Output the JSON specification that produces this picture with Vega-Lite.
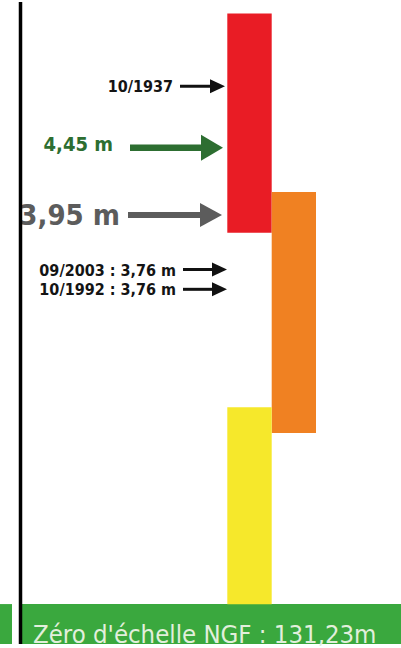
{
  "$schema": "https://vega.github.io/schema/vega-lite/v6.json",
  "width": 401,
  "height": 648,
  "autosize": {"type": "fit", "contains": "padding"},
  "padding": 0,
  "background": "white",
  "config": {"view": {"stroke": null}},
  "datasets": {
    "zones": [
      {"zone": "rouge", "x0": 227.3, "x1": 271.7, "n0": 415, "n1": 636.3},
      {"zone": "orange", "x0": 271.7, "x1": 316, "n0": 213, "n1": 456.3},
      {"zone": "jaune", "x0": 227.3, "x1": 271.7, "n0": 40, "n1": 239}
    ],
    "bande": [
      {"x0": 0, "x1": 12, "n0": 0, "n1": 40.3},
      {"x0": 21, "x1": 401, "n0": 0, "n1": 40.3}
    ],
    "echelle": [{"x": 20.5, "n0": 0, "n1": 648}],
    "crues": [
      {"label": "10/1937", "niveau": 563, "xStart": 180, "xTip": 225},
      {"label": "09/2003 : 3,76 m", "niveau": 378, "xStart": 183, "xTip": 227},
      {"label": "10/1992 : 3,76 m", "niveau": 358, "xStart": 183, "xTip": 227}
    ],
    "alerte": [{"label": "4,45 m", "niveau": 501, "xStart": 130, "xTip": 223}],
    "vigilance": [{"label": "3,95 m", "niveau": 433, "xStart": 128, "xTip": 222}],
    "zero": [{"label": "Zéro d'échelle NGF : 131,23m", "x": 33, "niveau": 1.5}]
  },
  "layer": [
    {
      "data": {"name": "bande"},
      "mark": {"type": "rect", "color": "#3aa83e"},
      "encoding": {
        "x": {"field": "x0", "type": "quantitative", "scale": {"domain": [0, 401], "nice": false, "zero": false}, "axis": null},
        "x2": {"field": "x1"},
        "y": {"field": "n0", "type": "quantitative", "scale": {"domain": [0, 648], "nice": false, "zero": false}, "axis": null},
        "y2": {"field": "n1"}
      }
    },
    {
      "data": {"name": "zones"},
      "mark": {"type": "rect"},
      "encoding": {
        "x": {"field": "x0", "type": "quantitative", "scale": {"domain": [0, 401], "nice": false, "zero": false}, "axis": null},
        "x2": {"field": "x1"},
        "y": {"field": "n0", "type": "quantitative", "scale": {"domain": [0, 648], "nice": false, "zero": false}, "axis": null},
        "y2": {"field": "n1"},
        "color": {"field": "zone", "type": "nominal", "scale": {"domain": ["rouge", "orange", "jaune"], "range": ["#e91c25", "#f08122", "#f6e82b"]}, "legend": null}
      }
    },
    {
      "data": {"name": "crues"},
      "mark": {"type": "text", "align": "right", "baseline": "alphabetic", "dx": -7, "dy": 6, "font": "DejaVu Sans Condensed", "fontWeight": "bold", "fontSize": 16, "color": "#141414"},
      "encoding": {
        "x": {"field": "xStart", "type": "quantitative", "scale": {"domain": [0, 401], "nice": false, "zero": false}, "axis": null},
        "y": {"field": "niveau", "type": "quantitative", "scale": {"domain": [0, 648], "nice": false, "zero": false}, "axis": null},
        "text": {"field": "label"}
      }
    },
    {
      "data": {"name": "crues"},
      "mark": {"type": "rule", "color": "#111111", "strokeWidth": 3, "x2Offset": -12},
      "encoding": {
        "x": {"field": "xStart", "type": "quantitative", "scale": {"domain": [0, 401], "nice": false, "zero": false}, "axis": null},
        "x2": {"field": "xTip"},
        "y": {"field": "niveau", "type": "quantitative", "scale": {"domain": [0, 648], "nice": false, "zero": false}, "axis": null}
      }
    },
    {
      "data": {"name": "crues"},
      "mark": {"type": "point", "shape": "M-15,-7L0,0L-15,7Z", "size": 4, "filled": true, "opacity": 1, "color": "#111111", "strokeWidth": 0},
      "encoding": {
        "x": {"field": "xTip", "type": "quantitative", "scale": {"domain": [0, 401], "nice": false, "zero": false}, "axis": null},
        "y": {"field": "niveau", "type": "quantitative", "scale": {"domain": [0, 648], "nice": false, "zero": false}, "axis": null}
      }
    },
    {
      "data": {"name": "alerte"},
      "mark": {"type": "text", "align": "right", "baseline": "alphabetic", "dx": -17, "dy": 3, "font": "DejaVu Sans Condensed", "fontWeight": "bold", "fontSize": 20, "color": "#2d6e31"},
      "encoding": {
        "x": {"field": "xStart", "type": "quantitative", "scale": {"domain": [0, 401], "nice": false, "zero": false}, "axis": null},
        "y": {"field": "niveau", "type": "quantitative", "scale": {"domain": [0, 648], "nice": false, "zero": false}, "axis": null},
        "text": {"field": "label"}
      }
    },
    {
      "data": {"name": "alerte"},
      "mark": {"type": "rule", "color": "#2d6e31", "strokeWidth": 6.5, "x2Offset": -18},
      "encoding": {
        "x": {"field": "xStart", "type": "quantitative", "scale": {"domain": [0, 401], "nice": false, "zero": false}, "axis": null},
        "x2": {"field": "xTip"},
        "y": {"field": "niveau", "type": "quantitative", "scale": {"domain": [0, 648], "nice": false, "zero": false}, "axis": null}
      }
    },
    {
      "data": {"name": "alerte"},
      "mark": {"type": "point", "shape": "M-22,-13L0,0L-22,13Z", "size": 4, "filled": true, "opacity": 1, "color": "#2d6e31", "strokeWidth": 0},
      "encoding": {
        "x": {"field": "xTip", "type": "quantitative", "scale": {"domain": [0, 401], "nice": false, "zero": false}, "axis": null},
        "y": {"field": "niveau", "type": "quantitative", "scale": {"domain": [0, 648], "nice": false, "zero": false}, "axis": null}
      }
    },
    {
      "data": {"name": "vigilance"},
      "mark": {"type": "text", "align": "right", "baseline": "alphabetic", "dx": -8, "dy": 10, "font": "DejaVu Sans Condensed", "fontWeight": "bold", "fontSize": 29, "color": "#5c5c5c"},
      "encoding": {
        "x": {"field": "xStart", "type": "quantitative", "scale": {"domain": [0, 401], "nice": false, "zero": false}, "axis": null},
        "y": {"field": "niveau", "type": "quantitative", "scale": {"domain": [0, 648], "nice": false, "zero": false}, "axis": null},
        "text": {"field": "label"}
      }
    },
    {
      "data": {"name": "vigilance"},
      "mark": {"type": "rule", "color": "#5c5c5c", "strokeWidth": 6, "x2Offset": -18},
      "encoding": {
        "x": {"field": "xStart", "type": "quantitative", "scale": {"domain": [0, 401], "nice": false, "zero": false}, "axis": null},
        "x2": {"field": "xTip"},
        "y": {"field": "niveau", "type": "quantitative", "scale": {"domain": [0, 648], "nice": false, "zero": false}, "axis": null}
      }
    },
    {
      "data": {"name": "vigilance"},
      "mark": {"type": "point", "shape": "M-22,-12L0,0L-22,12Z", "size": 4, "filled": true, "opacity": 1, "color": "#5c5c5c", "strokeWidth": 0},
      "encoding": {
        "x": {"field": "xTip", "type": "quantitative", "scale": {"domain": [0, 401], "nice": false, "zero": false}, "axis": null},
        "y": {"field": "niveau", "type": "quantitative", "scale": {"domain": [0, 648], "nice": false, "zero": false}, "axis": null}
      }
    },
    {
      "data": {"name": "echelle"},
      "mark": {"type": "rule", "color": "#000000", "strokeWidth": 3.5},
      "encoding": {
        "x": {"field": "x", "type": "quantitative", "scale": {"domain": [0, 401], "nice": false, "zero": false}, "axis": null},
        "y": {"field": "n0", "type": "quantitative", "scale": {"domain": [0, 648], "nice": false, "zero": false}, "axis": null},
        "y2": {"field": "n1"}
      }
    },
    {
      "data": {"name": "zero"},
      "mark": {"type": "text", "align": "left", "baseline": "alphabetic", "font": "DejaVu Sans Condensed", "fontSize": 25.5, "color": "#e2efdc"},
      "encoding": {
        "x": {"field": "x", "type": "quantitative", "scale": {"domain": [0, 401], "nice": false, "zero": false}, "axis": null},
        "y": {"field": "niveau", "type": "quantitative", "scale": {"domain": [0, 648], "nice": false, "zero": false}, "axis": null},
        "text": {"field": "label"}
      }
    }
  ]
}
